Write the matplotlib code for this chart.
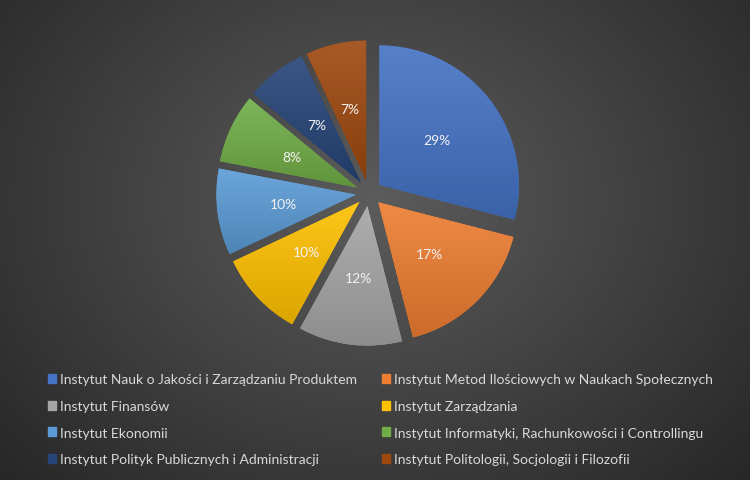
import numpy as np
import matplotlib
matplotlib.use("Agg")
import matplotlib.pyplot as plt
from matplotlib.colors import to_rgb

plt.rcParams['font.family'] = ['Lato', 'DejaVu Sans']

labels = ["Instytut Nauk o Jakości i Zarządzaniu Produktem",
          "Instytut Metod Ilościowych w Naukach Społecznych",
          "Instytut Finansów",
          "Instytut Zarządzania",
          "Instytut Ekonomii",
          "Instytut Informatyki, Rachunkowości i Controllingu",
          "Instytut Polityk Publicznych i Administracji",
          "Instytut Politologii, Socjologii i Filozofii"]
shares = [29, 17, 12, 10, 10, 8, 7, 7]
colors = ['#4472C4', '#ED7D31', '#A5A5A5', '#FFC000',
          '#5B9BD5', '#70AD47', '#264478', '#9E480E']

W, H = 750, 481
fig = plt.figure(figsize=(W / 100, H / 100), dpi=100)

# radial gradient background
bg = fig.add_axes([0, 0, 1, 1])
yy, xx = np.mgrid[0:H, 0:W]
d = np.sqrt(((xx - 375) / 520) ** 2 + ((yy - 200) / 420) ** 2)
d = np.clip(d, 0, 1)
c0 = np.array([0x5c, 0x5c, 0x5c]) / 255
c1 = np.array([0x26, 0x26, 0x26]) / 255
img = c0 + (c1 - c0) * d[..., None]
bg.imshow(img, aspect='auto', extent=[0, 1, 0, 1])
bg.axis('off')

# pie
cx, cy, r = 369, 194, 155
ax = fig.add_axes([(cx - r) / W, 1 - (cy + r) / H, 2 * r / W, 2 * r / H])
wedges, texts, autotexts = ax.pie(
    shares, colors=colors, startangle=90, counterclock=False,
    explode=[0.085] * len(shares), radius=0.9,
    autopct='%1.0f%%', pctdistance=0.52,
    wedgeprops=dict(linewidth=0),
    textprops=dict(color='#F2F2F2', fontsize=10, zorder=5))
ax.set_aspect('equal')
ax.axis('off')

# vertical shading inside each wedge (lighter top, darker bottom)
g = np.linspace(0, 1, 64)[:, None]
for w, c in zip(wedges, colors):
    base = np.array(to_rgb(c))
    top = base + (1 - base) * 0.10
    bot = base * 0.86
    grad = top + (bot - top) * g[..., None]
    grad = np.repeat(grad, 2, axis=1)
    ext = w.get_path().get_extents(w.get_patch_transform())
    im = ax.imshow(grad, extent=[ext.x0, ext.x1, ext.y0, ext.y1],
                   aspect='auto', zorder=2, interpolation='bilinear')
    im.set_clip_path(w)
ax.set_xlim(-1, 1)
ax.set_ylim(-1, 1)

# legend, row-major order
order = [0, 2, 4, 6, 1, 3, 5, 7]
handles = [plt.Rectangle((0, 0), 1, 1, color=colors[i]) for i in order]
fig.legend(handles, [labels[i] for i in order], ncol=2, loc='upper left',
           bbox_to_anchor=(35 / W, 1 - 362 / H), frameon=False,
           fontsize=10, labelcolor='#D9D9D9', handlelength=0.6,
           handleheight=0.6, handletextpad=0.3, columnspacing=1.8,
           labelspacing=1.05)

fig.savefig('out.png', dpi=100)
